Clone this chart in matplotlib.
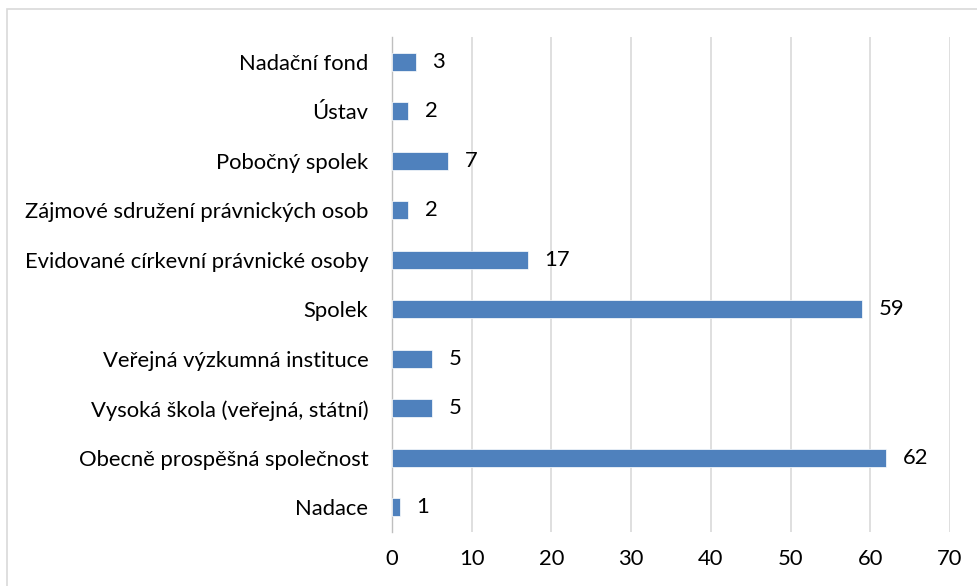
import matplotlib
matplotlib.use("Agg")
import matplotlib.pyplot as plt
from matplotlib.patches import Rectangle

plt.rcParams["font.family"] = ["Lato", "DejaVu Sans"]

categories = ["Nadace", "Obecně prospěšná společnost", "Vysoká škola (veřejná, státní)",
              "Veřejná výzkumná instituce", "Spolek", "Evidované církevní právnické osoby",
              "Zájmové sdružení právnických osob", "Pobočný spolek", "Ústav", "Nadační fond"]
counts = [1, 62, 5, 5, 59, 17, 2, 7, 2, 3]
xticks = [0, 10, 20, 30, 40, 50, 60, 70]

W, H = 977, 586
fig = plt.figure(figsize=(W / 100, H / 100), dpi=100)
ax = fig.add_axes([392 / W, 1 - 532 / H, 558 / W, 495 / H])

# outer chart border (extends past the right/bottom edge like the source)
fig.patches.append(Rectangle((7 / W, -0.1), 1.2, 1 - 9 / H + 0.1, transform=fig.transFigure,
                             fill=False, edgecolor="#D9D9D9", linewidth=1.2))

fs = 15.8
y = range(len(categories))
ax.barh(y, counts, height=0.37, color="#4F81BD", edgecolor="white", linewidth=0.5, zorder=3)
for yi, v in zip(y, counts):
    ax.annotate(str(v), (v, yi), xytext=(12, 0), textcoords="offset points",
                va="center", ha="left", fontsize=fs, color="#000000")

ax.set_xlim(0, 70)
ax.set_ylim(-0.5, len(categories) - 0.5)
ax.set_xticks(xticks)
ax.set_yticks(list(y))
ax.set_yticklabels(categories)
ax.tick_params(axis="both", length=0, labelsize=fs, colors="#000000")
ax.tick_params(axis="x", pad=12)
ax.tick_params(axis="y", pad=17)
ax.grid(axis="x", color="#D9D9D9", linewidth=1.2, zorder=0)
for s in ["top", "right", "bottom"]:
    ax.spines[s].set_visible(False)
ax.spines["left"].set_color("#BFBFBF")
ax.spines["left"].set_linewidth(1.0)

fig.savefig("out.png", dpi=100)
